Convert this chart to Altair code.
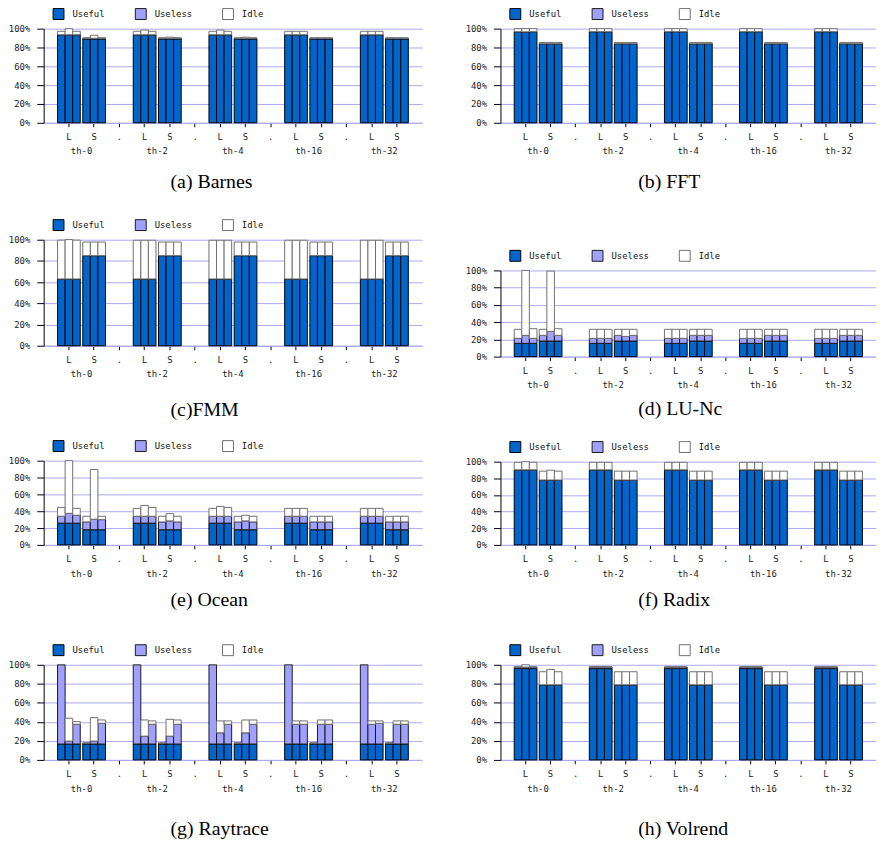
import altair as alt
import pandas as pd

THREADS = ["th-0", "th-2", "th-4", "th-16", "th-32"]
SUBS = ["L", "S"]
RUNS = [1, 2, 3]
SERIES = ["Useful", "Useless", "Idle"]
COLORS = ["#0066cc", "#a0a0ff", "#ffffff"]
STROKES = ["#000000", "#1a1a1a", "#707070"]
Y_TICKS = [0, 20, 40, 60, 80, 100]
MONO = "DejaVu Sans Mono"
SERIF = "Liberation Serif"
GRID = "#a9a9f5"

# each row = one thread group, values = L1, L2, L3, S1, S2, S3 (percent)
BARNES_USEFUL = [[93.5, 93.5, 93.5, 89, 89, 89], [93.5, 93.5, 93.5, 89, 89, 89], [93.5, 93.5, 93.5, 89, 89, 89],
                 [93.5, 93.5, 93.5, 89, 89, 89], [93.5, 93.5, 93.5, 89, 89, 89]]
BARNES_USELESS = [[0, 0, 0, 0.8, 0.8, 0.8], [0, 0, 0, 0.8, 0.8, 0.8], [0, 0, 0, 0.8, 0.8, 0.8],
                  [0, 0, 0, 0.8, 0.8, 0.8], [0, 0, 0, 0.8, 0.8, 0.8]]
BARNES_IDLE = [[3.7, 6.5, 3.7, 0.4, 3.2, 0.4], [3.7, 5.0, 3.7, 0.4, 1.2, 0.4], [3.7, 5.0, 3.7, 0.4, 1.2, 0.4],
               [3.7, 3.7, 3.7, 0.4, 0.4, 0.4], [3.7, 3.7, 3.7, 0.4, 0.4, 0.4]]

FFT_USEFUL = [[96.8, 96.6, 96.8, 84, 84, 84], [96.8, 96.8, 96.8, 84, 84, 84], [96.8, 96.8, 96.8, 84, 84, 84],
              [96.8, 96.8, 96.8, 84, 84, 84], [96.8, 96.8, 96.8, 84, 84, 84]]
FFT_USELESS = [[0, 0, 0, 0, 0, 0]] * 5
FFT_IDLE = [[3.2, 3.4, 3.2, 1.3, 1.3, 1.3], [3.2, 3.2, 3.2, 1.3, 1.3, 1.3], [3.2, 3.2, 3.2, 1.3, 1.3, 1.3],
            [3.2, 3.2, 3.2, 1.3, 1.3, 1.3], [3.2, 3.2, 3.2, 1.3, 1.3, 1.3]]

FMM_USEFUL = [[63, 63, 63, 85, 85, 85], [63, 63, 63, 85, 85, 85], [63, 63, 63, 85, 85, 85],
              [63, 63, 63, 85, 85, 85], [63, 63, 63, 85, 85, 85]]
FMM_USELESS = [[0, 0, 0, 0, 0, 0]] * 5
FMM_IDLE = [[36.6, 37.1, 36.6, 12.8, 12.8, 12.8], [36.5, 36.5, 36.5, 12.8, 12.8, 12.8],
            [36.5, 36.5, 36.5, 12.8, 12.8, 12.8], [36.5, 36.5, 36.5, 12.8, 12.8, 12.8],
            [36.5, 36.5, 36.5, 12.8, 12.8, 12.8]]

LU_USEFUL = [[15.4, 15.4, 15.4, 18.1, 18.1, 18.1], [15.4, 15.4, 15.4, 18.1, 18.1, 18.1],
             [15.4, 15.4, 15.4, 18.1, 18.1, 18.1], [15.4, 15.4, 15.4, 18.1, 18.1, 18.1],
             [15.4, 15.4, 15.4, 18.1, 18.1, 18.1]]
LU_USELESS = [[5.8, 9.3, 5.8, 6.6, 11.2, 6.6], [5.8, 5.8, 5.8, 6.6, 5.4, 6.6], [5.8, 5.8, 5.8, 6.6, 6.6, 6.6],
              [5.8, 5.8, 5.8, 6.6, 6.6, 6.6], [5.8, 5.8, 5.8, 6.6, 6.6, 6.6]]
LU_IDLE = [[10.5, 75.3, 11.2, 7.0, 69.9, 7.7], [10.5, 10.5, 10.5, 7.0, 8.2, 7.0], [10.5, 10.5, 10.5, 7.0, 7.0, 7.0],
           [10.5, 10.5, 10.5, 7.0, 7.0, 7.0], [10.5, 10.5, 10.5, 7.0, 7.0, 7.0]]

OCEAN_USEFUL = [[25.8, 25.8, 25.8, 18, 18, 18], [25.8, 25.8, 25.8, 18, 18, 18], [25.8, 25.8, 25.8, 18, 18, 18],
                [25.8, 25.8, 25.8, 18, 18, 18], [25.8, 25.8, 25.8, 18, 18, 18]]
OCEAN_USELESS = [[8.2, 11.7, 9.4, 9.3, 12.5, 12.0], [8.2, 8.2, 8.2, 9.3, 10.5, 9.3], [8.2, 8.2, 8.2, 9.3, 10.5, 9.3],
                 [8.2, 8.2, 8.2, 9.3, 9.3, 9.3], [8.2, 8.2, 8.2, 9.3, 9.3, 9.3]]
OCEAN_IDLE = [[10.5, 62.5, 8.2, 6.7, 59.0, 4.0], [9.4, 12.9, 10.5, 6.7, 8.6, 6.7], [9.4, 11.7, 10.5, 6.7, 6.7, 6.7],
              [9.4, 9.4, 9.4, 6.7, 6.7, 6.7], [9.4, 9.4, 9.4, 6.7, 6.7, 6.7]]

RADIX_USEFUL = [[90.2, 90.2, 90.2, 78, 78, 78], [90.2, 90.2, 90.2, 78, 78, 78], [90.2, 90.2, 90.2, 78, 78, 78],
                [90.2, 90.2, 90.2, 78, 78, 78], [90.2, 90.2, 90.2, 78, 78, 78]]
RADIX_USELESS = [[0, 0, 0, 0, 0, 0]] * 5
RADIX_IDLE = [[9.0, 9.8, 9.0, 10.6, 11.8, 10.6], [9.0, 9.0, 9.0, 10.6, 10.6, 10.6], [9.0, 9.0, 9.0, 10.6, 10.6, 10.6],
              [9.0, 9.0, 9.0, 10.6, 10.6, 10.6], [9.0, 9.0, 9.0, 10.6, 10.6, 10.6]]

RAY_USEFUL = [[16.7, 16.7, 16.7, 16.7, 16.7, 16.7]] * 5
RAY_USELESS = [[83.3, 3.1, 20.8, 1.0, 3.1, 21.8], [83.3, 8.3, 20.8, 1.0, 8.3, 20.8], [83.3, 11.8, 20.8, 1.0, 11.8, 20.8],
               [83.3, 20.8, 20.8, 1.0, 20.8, 20.8], [83.3, 20.8, 21.8, 1.0, 20.8, 20.8]]
RAY_IDLE = [[0, 24.0, 2.8, 0, 24.6, 3.5], [0, 17.0, 3.5, 0, 17.7, 4.5], [0, 12.5, 3.5, 0, 13.5, 4.5],
            [0, 3.5, 3.5, 0, 4.5, 4.5], [0, 3.5, 2.5, 0, 3.5, 3.5]]

VOL_USEFUL = [[96, 96, 96, 79, 79, 79], [96, 96, 96, 79, 79, 79], [96, 96, 96, 79, 79, 79],
              [96, 96, 96, 79, 79, 79], [96, 96, 96, 79, 79, 79]]
VOL_USELESS = [[1.6, 1.6, 1.6, 0, 0, 0], [1.6, 1.6, 1.6, 0, 0, 0], [1.6, 1.6, 1.6, 0, 0, 0],
               [1.6, 1.6, 1.6, 0, 0, 0], [1.6, 1.6, 1.6, 0, 0, 0]]
VOL_IDLE = [[0, 2.4, 0, 13.7, 16.1, 13.7], [0, 0, 0, 13.7, 13.7, 13.7], [0, 0, 0, 13.7, 13.7, 13.7],
            [0, 0, 0, 13.7, 13.7, 13.7], [0, 0, 0, 13.7, 13.7, 13.7]]

KEYS = []
for i, t in enumerate(THREADS):
    KEYS += [f"{t}|L", f"{t}|S"]
    if i < len(THREADS) - 1:
        KEYS.append(f"{t}|.")


def build(useful, useless, idle):
    rows = []
    for gi, t in enumerate(THREADS):
        for si, s in enumerate(SUBS):
            for ri, r in enumerate(RUNS):
                k = si * 3 + ri
                base = 0.0
                for ser, vals in zip(SERIES, (useful, useless, idle)):
                    v = vals[gi][k]
                    rows.append({"key": f"{t}|{s}", "run": r, "series": ser,
                                 "y0": base, "y1": base + v, "ord": SERIES.index(ser)})
                    base += v
    return pd.DataFrame(rows)


def panel(useful, useless, idle, w, h, cap, cap_x, cap_y, bottom_guard=None):
    df = build(useful, useless, idle)
    xscale = alt.Scale(domain=KEYS, paddingInner=0.1, paddingOuter=0.55)
    xaxis = alt.Axis(title=None, labelExpr="split(datum.value, '|')[1]", labelAngle=0,
                     domainColor=GRID, tickColor="black", tickSize=4, labelPadding=6,
                     grid=False, labelColor="#222")
    xenc = alt.X("key:N", scale=xscale, sort=KEYS, axis=xaxis)
    leg = alt.Legend(orient="none", legendX=9, legendY=-21, direction="horizontal", title=None,
                     symbolType="square", symbolSize=121, labelFont=MONO, labelFontSize=9,
                     columnPadding=28, labelOffset=8, symbolStrokeWidth=1, labelColor="#111")
    bars = alt.Chart(df).mark_bar(strokeWidth=1, opacity=1).encode(
        x=xenc,
        xOffset=alt.XOffset("run:O", scale=alt.Scale(paddingInner=0, paddingOuter=0)),
        y=alt.Y("y0:Q", scale=alt.Scale(domain=[0, 100], nice=False),
                axis=alt.Axis(values=Y_TICKS, title=None, labelExpr="datum.value + '%'",
                              grid=True, gridColor=GRID, tickSize=7, labelPadding=7,
                              domainColor="black", tickColor="black", labelColor="#222")),
        y2="y1:Q",
        color=alt.Color("series:N", scale=alt.Scale(domain=SERIES, range=COLORS), legend=leg),
        stroke=alt.Stroke("series:N", scale=alt.Scale(domain=SERIES, range=STROKES), legend=leg),
        order=alt.Order("ord:Q"),
    )
    step = w / (len(KEYS) - 0.1 + 1.1)
    th_df = pd.DataFrame({"key": [f"{t}|L" for t in THREADS], "label": THREADS})
    th_text = alt.Chart(th_df).mark_text(font=MONO, fontSize=9, baseline="middle", dx=step / 2,
                                          color="#222").encode(
        x=xenc, y=alt.value(h + 29), text="label:N")
    one = alt.Data(values=[{"a": 1}])
    caption = alt.Chart(one).mark_text(font=SERIF, fontSize=20, align="left", baseline="middle",
                                       color="black").encode(
        x=alt.value(cap_x), y=alt.value(cap_y), text=alt.value(cap))
    top_guard = alt.Chart(one).mark_rule(strokeOpacity=0).encode(
        x=alt.value(0), x2=alt.value(w), y=alt.value(-21))
    layers = [bars, th_text, caption, top_guard]
    if bottom_guard is not None:
        layers.append(alt.Chart(one).mark_rule(strokeOpacity=0).encode(
            x=alt.value(0), x2=alt.value(w), y=alt.value(bottom_guard)))
    return alt.layer(*layers).properties(width=w, height=h)


WL, WR = 382, 379
pa = panel(BARNES_USEFUL, BARNES_USELESS, BARNES_IDLE, WL, 95, "(a) Barnes", 128, 155, 192)
pc = panel(FMM_USEFUL, FMM_USELESS, FMM_IDLE, WL, 107, "(c)FMM", 128, 172, 202)
pe = panel(OCEAN_USEFUL, OCEAN_USELESS, OCEAN_IDLE, WL, 85, "(e) Ocean", 128, 141, 185)
pg = panel(RAY_USEFUL, RAY_USELESS, RAY_IDLE, WL, 96, "(g) Raytrace", 128, 166)
pb = panel(FFT_USEFUL, FFT_USELESS, FFT_IDLE, WR, 95, "(b) FFT", 139, 155, 223)
pd_ = panel(LU_USEFUL, LU_USELESS, LU_IDLE, WR, 87, "(d) LU-Nc", 139, 140, 172)
pf = panel(RADIX_USEFUL, RADIX_USELESS, RADIX_IDLE, WR, 84, "(f)  Radix", 139, 140, 184)
ph = panel(VOL_USEFUL, VOL_USELESS, VOL_IDLE, WR, 96, "(h) Volrend", 139, 166)

left = alt.vconcat(pa, pc, pe, pg, spacing=0).resolve_scale(color="independent", stroke="independent")
right = alt.vconcat(pb, pd_, pf, ph, spacing=0).resolve_scale(color="independent", stroke="independent")

chart = alt.hconcat(left, right, spacing=43,
                    padding={"top": -4, "left": 0, "right": 0, "bottom": 0}).resolve_scale(
    color="independent", stroke="independent"
).configure_view(stroke=None).configure_axis(labelFont=MONO, labelFontSize=9)

chart.save("out.html", embed_options={"renderer": "svg", "actions": False})
